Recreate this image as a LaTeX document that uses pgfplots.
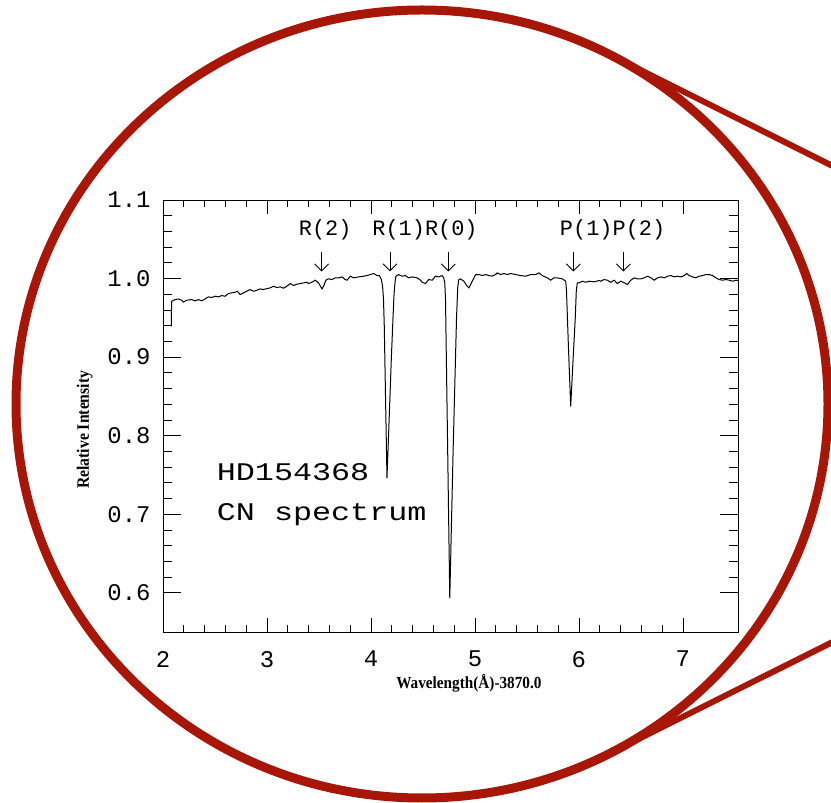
\documentclass[border=0pt]{standalone}
\usepackage{pgfplots}
\pgfplotsset{compat=1.18}
\usepackage{fontspec}
\usetikzlibrary{arrows.meta}
\setmainfont{Liberation Serif}
\newfontfamily\tickfont{Liberation Mono}
\newfontfamily\hdfont[FakeStretch=1.25]{Liberation Mono}
\newfontfamily\labfont[FakeStretch=0.9]{Liberation Serif}
\definecolor{ringred}{RGB}{168,22,8}

\pgfplotstableread{
x y
2.080 0.939
2.082 0.962
2.084 0.971
2.116 0.9732
2.148 0.974
2.180 0.9724
2.196 0.970
2.228 0.9724
2.276 0.9732
2.308 0.9716
2.340 0.9732
2.372 0.9716
2.405 0.974
2.437 0.9767
2.469 0.9758
2.501 0.9775
2.533 0.9767
2.565 0.9783
2.597 0.9775
2.629 0.9809
2.662 0.9818
2.694 0.9826
2.716 0.9838
2.742 0.9796
2.774 0.9818
2.806 0.9838
2.838 0.9860
2.870 0.9838
2.903 0.9851
2.934 0.9868
2.966 0.9860
2.999 0.9872
3.031 0.9881
3.063 0.9902
3.095 0.9885
3.127 0.9894
3.159 0.9877
3.191 0.9902
3.224 0.9936
3.256 0.9911
3.288 0.9928
3.320 0.9936
3.352 0.9945
3.384 0.9953
3.400 0.9936
3.432 0.9953
3.464 0.9979
3.496 0.9945
3.529 0.9868
3.544 0.9902
3.567 0.9979
3.593 0.9996
3.625 0.9987
3.657 1.0009
3.689 1.0009
3.722 1.0021
3.753 0.9987
3.770 0.9979
3.802 1.0030
3.834 1.0009
3.882 1.0021
3.930 1.0030
3.962 1.0038
3.994 1.0051
4.026 1.0064
4.059 1.0038
4.081 1.0038
4.100 0.9987
4.112 0.9900
4.120 0.9750
4.128 0.9400
4.140 0.8500
4.154 0.7460
4.172 0.8100
4.195 0.8950
4.212 0.9500
4.222 0.9800
4.232 0.9960
4.240 1.0030
4.266 1.0051
4.298 1.0030
4.331 1.0038
4.363 1.0009
4.396 1.0021
4.444 1.0009
4.476 0.9979
4.492 0.9953
4.524 0.9936
4.556 0.9987
4.589 0.9979
4.620 1.0030
4.652 1.0021
4.684 1.0038
4.700 1.0009
4.710 0.9945
4.717 0.9730
4.738 0.7800
4.758 0.5930
4.790 0.7800
4.823 0.9500
4.835 0.9900
4.845 0.9987
4.861 0.9996
4.893 0.9966
4.926 0.9902
4.942 0.9881
4.974 0.9966
5.006 1.0051
5.038 1.0051
5.070 1.0038
5.102 1.0051
5.134 1.0038
5.166 1.0030
5.198 1.0051
5.214 1.0072
5.247 1.0051
5.279 1.0064
5.311 1.0051
5.343 1.0064
5.391 1.0051
5.439 1.0038
5.487 1.0030
5.536 1.0051
5.584 1.0051
5.616 1.0072
5.648 1.0038
5.696 1.0009
5.728 0.9979
5.760 1.0009
5.793 1.0009
5.841 0.9996
5.873 0.9966
5.880 0.9860
5.900 0.9100
5.921 0.8373
5.945 0.9000
5.965 0.9500
5.975 0.9850
5.985 0.9945
6.001 0.9945
6.033 0.9966
6.066 0.9953
6.098 0.9966
6.146 0.9958
6.194 0.9975
6.210 0.9966
6.242 0.9987
6.274 0.9979
6.306 0.9953
6.339 0.9979
6.371 0.9936
6.403 0.9966
6.435 0.9945
6.467 0.9924
6.499 0.9979
6.531 1.0009
6.563 0.9996
6.595 0.9996
6.628 1.0009
6.660 1.0030
6.692 1.0009
6.724 0.9979
6.756 1.0009
6.788 1.0021
6.820 1.0009
6.853 1.0030
6.885 1.0038
6.917 1.0021
6.949 1.0030
6.981 1.0021
7.013 1.0038
7.036 1.0064
7.061 1.0038
7.093 1.0021
7.125 1.0009
7.157 1.0030
7.190 1.0038
7.222 1.0051
7.254 1.0051
7.286 1.0038
7.318 1.0009
7.350 0.9987
7.382 0.9979
7.414 0.9987
7.447 0.9979
7.479 0.9966
7.511 0.9979
7.530 0.9975
}\spectrum

\begin{document}
\begin{tikzpicture}
\useasboundingbox (0,0) rectangle (831bp,803bp);
\begin{scope}
\clip (0,0) rectangle (831bp,803bp);
\draw[ringred, line width=6bp] (607.8bp,749.3bp) -- (1309bp,399bp);
\draw[ringred, line width=6bp] (607.8bp,48.7bp) -- (1309bp,399bp);
\draw[ringred, line width=9bp] (422bp,399bp) ellipse[x radius=406bp, y radius=394bp];
\end{scope}
\begin{axis}[
  at={(163bp,171bp)}, anchor=south west,
  scale only axis, width=575bp, height=432bp,
  xmin=2, xmax=7.53, ymin=0.55, ymax=1.1,
  xtick={2,3,4,5,6,7}, minor x tick num=4,
  ytick={0.6,0.7,0.8,0.9,1.0,1.1}, minor y tick num=4,
  major tick length=18bp, minor tick length=9bp,
  xtick style={/pgfplots/major tick length=14bp, /pgfplots/minor tick length=7bp},
  tick style={black, line width=0.7bp},
  axis line style={black, line width=0.9bp},
  /pgf/number format/assume math mode=true,
  ticklabel style={font=\tickfont\fontsize{24}{24}\selectfont},
  yticklabel={\pgfmathprintnumber[fixed, fixed zerofill, precision=1]{\tick}},
  xticklabel style={inner sep=1bp, yshift=-18bp},
  yticklabel style={xshift=-9bp},
  xlabel={Wavelength(Å)-3870.0},
  ylabel={Relative Intensity},
  xlabel style={font=\labfont\bfseries\fontsize{17}{18}\selectfont, at={(axis description cs:0.532,-0.118)}, anchor=center, inner sep=1bp},
  ylabel style={font=\labfont\bfseries\fontsize{17.5}{18}\selectfont, at={(axis description cs:-0.136,0.468)}, anchor=center},
  clip=true,
]
\addplot[black, line width=1bp] table[x=x, y=y] {\spectrum};
\foreach \xa in {3.525,4.183,4.744,5.946,6.427}{
  \edef\temp{\noexpand\draw[-{Straight Barb[length=7bp,width=14bp]}, line width=0.9bp] (axis cs:\xa,1.034) -- (axis cs:\xa,1.009);}
  \temp
}
\node[font=\tickfont\fontsize{22}{22}\selectfont, anchor=center] at (axis cs:3.56,1.062) {R(2)};
\node[font=\tickfont\fontsize{22}{22}\selectfont, anchor=center] at (axis cs:4.52,1.062) {R(1)R(0)};
\node[font=\tickfont\fontsize{22}{22}\selectfont, anchor=center] at (axis cs:6.324,1.062) {P(1)P(2)};
\node[font=\hdfont\fontsize{25.5}{26}\selectfont, anchor=base west, inner sep=0pt] at (axis cs:2.516,0.7429) {HD154368};
\node[font=\hdfont\fontsize{25.5}{26}\selectfont, anchor=base west, inner sep=0pt] at (axis cs:2.516,0.6921) {CN spectrum};
\end{axis}
\end{tikzpicture}
\end{document}
